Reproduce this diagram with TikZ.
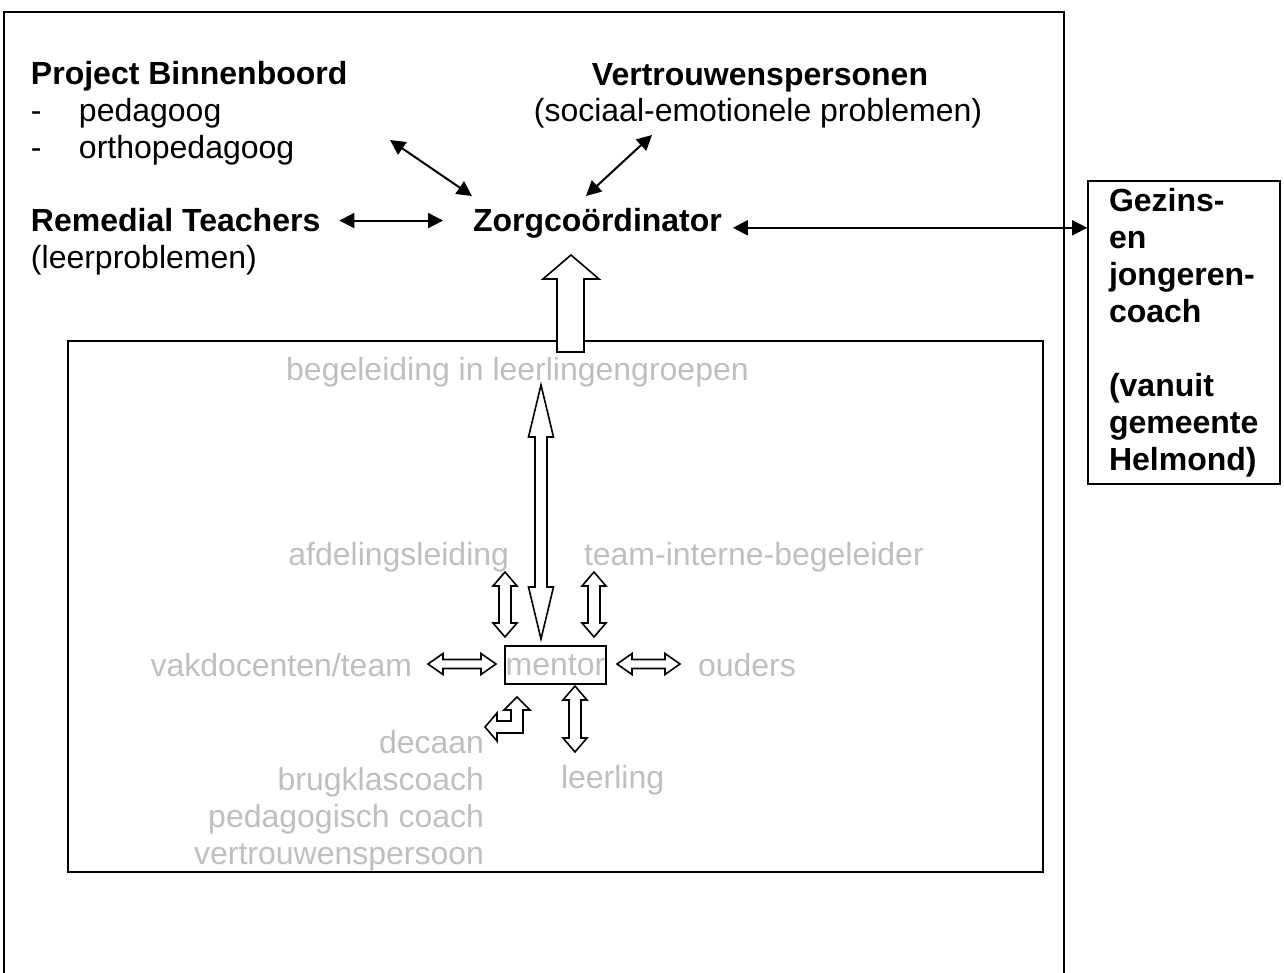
\documentclass[tikz,border=0pt]{standalone}
\usepackage{fontspec}
\setmainfont{Liberation Sans}
\usepackage{tikz}
\usetikzlibrary{arrows.meta}

\definecolor{faintgray}{RGB}{191,191,191}

\newcommand{\dblarrow}[6]{%
  \draw[blockarrow,shift={#1},rotate=#2]
    (-#3,0) -- (-#3+#6,#5) -- (-#3+#6,#4) -- (#3-#6,#4) -- (#3-#6,#5) -- (#3,0)
    -- (#3-#6,-#5) -- (#3-#6,-#4) -- (-#3+#6,-#4) -- (-#3+#6,-#5) -- cycle;}

\begin{document}
\begin{tikzpicture}[
  x=0.5pt,y=-0.5pt,line width=1pt,
  >={Triangle[length=7.5pt,width=7.5pt]},
  every node/.style={font=\fontsize{16}{18.5}\selectfont,inner sep=0pt},
  title/.style={font=\fontsize{16}{18.5}\selectfont\bfseries},
  faint/.style={text=faintgray},
  blockarrow/.style={draw=black,fill=white,line width=0.8pt,line join=miter},
  thinarrow/.style={<->,line width=1pt},
  boxed/.style={draw=black,line width=0.8pt}]
  \useasboundingbox (0,0) rectangle (1284,973);

  \draw (4,973) -- (4,12) -- (1064,12) -- (1064,973);
  \draw[line width=1.2pt] (68,341) rectangle (1043,872);

  \node[title,anchor=base west] (binnenboord) at (30,85) {Project Binnenboord};
  \node[anchor=base west] (pedagoog) at (30,122) {\makebox[24pt][l]{-}pedagoog};
  \node[anchor=base west] (orthopedagoog) at (30,159) {\makebox[24pt][l]{-}orthopedagoog};
  \node[title,anchor=base] (vertrouwen) at (760,86) {Vertrouwenspersonen};
  \node[anchor=base] (sociaal) at (758,122) {(sociaal-emotionele problemen)};
  \node[title,anchor=base west] (remedial) at (30,232) {Remedial Teachers};
  \node[anchor=base west] (leerproblemen) at (30,269) {(leerproblemen)};
  \node[title,anchor=base west] (zorg) at (472,232) {Zorgco\"ordinator};

  \node[boxed,minimum width=96pt,minimum height=151.5pt] (gezins) at (1184,332.5) {};
  \node[title,anchor=north west,align=left] (gezinstext) at (1108,187)
    {Gezins-\\en\\jongeren-\\coach\\[18.5pt](vanuit\\gemeente\\Helmond)};

  \coordinate (binnenboord-end) at (390,140);
  \coordinate (zorg-left) at (472,196);
  \coordinate (vertrouwen-end) at (652,135);
  \coordinate (zorg-right) at (586,196);

  \draw[thinarrow,shorten <=9pt,shorten >=14.5pt] (remedial.east) -- (remedial.east -| zorg.west);
  \draw[thinarrow] (binnenboord-end) -- (zorg-left);
  \draw[thinarrow] (vertrouwen-end) -- (zorg-right);
  \draw[thinarrow,shorten <=5pt] ([yshift=-2pt]zorg.east) -- ([yshift=-2pt]zorg.east -| gezins.west);

  \draw[blockarrow] (557,352) -- (557,279) -- (543,279) -- (571,255) -- (599,279)
    -- (584,279) -- (584,352) -- cycle;

  \node[faint,anchor=base] (groepen) at (517.5,380) {begeleiding in leerlingengroepen};
  \node[faint,anchor=base east] (afdeling) at (510,565) {afdelingsleiding};
  \node[faint,anchor=base west] (teamib) at (583,565) {team-interne-begeleider};
  \node[boxed,text=faintgray,minimum width=50.5pt,minimum height=19pt] (mentor) at (555.5,665) {mentor};
  \node[faint,anchor=base east] (vakdocenten) at (413,676) {vakdocenten/team};
  \node[faint,anchor=base west] (ouders) at (697,676) {ouders};
  \node[faint,anchor=north east,align=right] (decaan) at (485,729)
    {decaan\\brugklascoach\\pedagogisch coach\\vertrouwenspersoon};
  \node[faint,anchor=base west] (leerling) at (560,788) {leerling};

  \dblarrow{(541,512)}{90}{127}{6}{12.5}{52}
  \dblarrow{(505,604.5)}{90}{32.5}{6}{12}{14}
  \dblarrow{(594,604.5)}{90}{32.5}{6}{12}{14}
  \dblarrow{(462,664)}{0}{34}{4.5}{10.5}{15}
  \dblarrow{(648.5,664)}{0}{31.5}{4.5}{10.5}{15}
  \dblarrow{(575,719)}{90}{33}{6}{12}{14}

  \draw[blockarrow] (517,697) -- (530,710) -- (523,710) -- (523,733) -- (497,733)
    -- (497,741) -- (485,727) -- (497,713) -- (497,721) -- (511,721) -- (511,710)
    -- (504,710) -- cycle;
\end{tikzpicture}
\end{document}
